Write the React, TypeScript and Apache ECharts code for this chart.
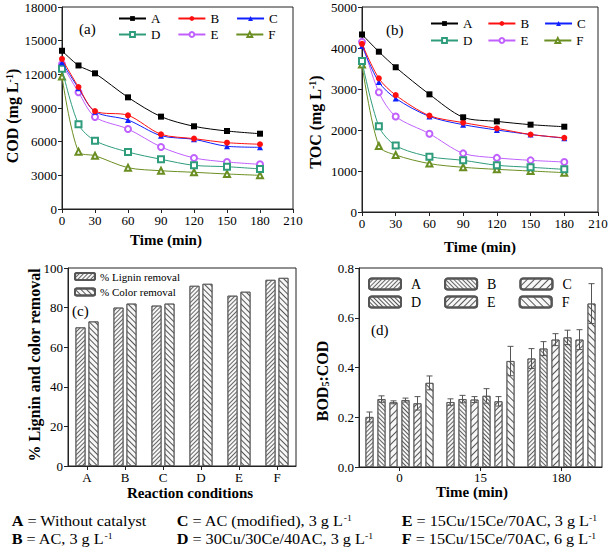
import React, { useEffect, useRef } from 'react';
import * as echarts from 'echarts';

const FONT = 'Liberation Serif';

// Panel (a) / (b): time course
const times = [0, 15, 30, 60, 90, 120, 150, 180];
const lineKeys = ['A', 'B', 'C', 'D', 'E', 'F'];
const codA = [14100, 12790, 12090, 9950, 8230, 7370, 6950, 6710];
const codB = [13370, 10870, 8730, 8350, 6660, 6270, 5910, 5770];
const codC = [13070, 10760, 8670, 7930, 6530, 6210, 5590, 5500];
const codD = [12500, 7550, 6090, 5080, 4430, 3890, 3770, 3570];
const codE = [12900, 10400, 8200, 7130, 5530, 4550, 4190, 3980];
const codF = [11800, 5110, 4750, 3680, 3410, 3270, 3120, 3000];
const tocA = [4330, 3910, 3530, 2870, 2310, 2210, 2130, 2080];
const tocB = [4100, 3260, 2850, 2350, 2180, 2040, 1890, 1810];
const tocC = [4050, 3170, 2770, 2330, 2130, 2000, 1890, 1800];
const tocD = [3680, 2090, 1620, 1350, 1260, 1140, 1090, 1040];
const tocE = [4150, 2920, 2330, 1910, 1430, 1320, 1260, 1220];
const tocF = [3600, 1610, 1390, 1180, 1090, 1040, 1000, 960];

// Panel (c)
const conditions = ['A', 'B', 'C', 'D', 'E', 'F'];
const ligninRemoval = [70, 80, 81, 91, 86, 94];
const colorRemoval = [73, 82, 82, 92, 88, 95];

// Panel (d)
const bodTimes = ['0', '15', '180'];
const bodA = [0.201, 0.261, 0.436];
const bodB = [0.273, 0.273, 0.476];
const bodC = [0.26, 0.271, 0.512];
const bodD = [0.269, 0.286, 0.521];
const bodE = [0.256, 0.264, 0.512];
const bodF = [0.338, 0.426, 0.657];
const errA = [0.02, 0.013, 0.04];
const errB = [0.013, 0.015, 0.028];
const errC = [0.006, 0.012, 0.024];
const errD = [0.008, 0.029, 0.029];
const errE = [0.027, 0.019, 0.04];
const errF = [0.028, 0.059, 0.08];

const lineColors = ['#000000', '#ff1010', '#1020ff', '#2f9c7c', '#c060ff', '#6b8e23'];
const lineSymbols = ['rect', 'circle', 'triangle', 'emptyRect', 'emptyCircle', 'emptyTriangle'];

const hatch = (rot: number, gap: number, color = '#555') => ({
  symbol: 'rect',
  symbolSize: 1,
  color,
  dashArrayX: [1, 0],
  dashArrayY: [1, gap],
  rotation: rot,
});

export default function App() {
  const ref = useRef<HTMLDivElement>(null);
  useEffect(() => {
    if (!ref.current) return;
    const chart = echarts.init(ref.current, undefined, { renderer: 'svg' });

    const axisBase = {
      axisLine: { show: true, lineStyle: { color: '#222', width: 1 } },
      axisTick: { show: true, inside: false, length: 4, lineStyle: { color: '#222' } },
      axisLabel: { color: '#000', fontSize: 13, fontFamily: FONT, margin: 5, lineHeight: 13, formatter: (v: any) => String(v) },
      splitLine: { show: false },
    };

    const codData = [codA, codB, codC, codD, codE, codF];
    const tocData = [tocA, tocB, tocC, tocD, tocE, tocF];
    const mkLines = (prefix: string, arrs: number[][], axis: number) =>
      arrs.map((arr, k) => ({
        type: 'line',
        name: prefix + lineKeys[k],
        xAxisIndex: axis,
        yAxisIndex: axis,
        data: times.map((t, i) => [t, arr[i]]),
        smooth: 0.3,
        symbol: lineSymbols[k],
        symbolSize: 6,
        lineStyle: { width: 1, color: lineColors[k] },
        itemStyle: { color: lineColors[k], borderWidth: 1 },
        z: 3 + (5 - k),
      }));

    const bodVals = [bodA, bodB, bodC, bodD, bodE, bodF];
    const bodErrs = [errA, errB, errC, errD, errE, errF];
    const bodHatches = [
      hatch(-Math.PI / 4, 1.5, '#666'),
      hatch(Math.PI / 4, 1.5, '#666'),
      hatch(-Math.PI / 4, 3.5, '#555'),
      hatch(Math.PI / 4, 1.2, '#555'),
      hatch(-Math.PI / 4, 2.5, '#555'),
      hatch(Math.PI / 4, 3.5, '#555'),
    ];
    const barW = 8;
    const step = 12;

    const bodBars = bodVals.map((vals, k) => ({
      type: 'bar',
      name: 'd' + lineKeys[k],
      xAxisIndex: 3,
      yAxisIndex: 3,
      data: vals,
      barWidth: barW,
      barGap: '50%',
      itemStyle: { color: '#f7f7f7', borderColor: '#555', borderWidth: 0.8, decal: bodHatches[k] },
      z: 2,
    }));
    const bodErrSeries = bodVals.map((vals, k) => ({
      type: 'custom',
      name: 'err' + lineKeys[k],
      xAxisIndex: 3,
      yAxisIndex: 3,
      silent: true,
      z: 5,
      data: vals.map((v, j) => [j, v, bodErrs[k][j]]),
      renderItem: (params: any, api: any) => {
        const x = api.value(0);
        const v = api.value(1);
        const e = api.value(2);
        const top = api.coord([x, v + e]);
        const bot = api.coord([x, v - e]);
        const cx = top[0] + (k - 2.5) * step;
        const st = { stroke: '#555', lineWidth: 1 };
        return {
          type: 'group',
          children: [
            { type: 'line', shape: { x1: cx, y1: top[1], x2: cx, y2: bot[1] }, style: st },
            { type: 'line', shape: { x1: cx - 3, y1: top[1], x2: cx + 3, y2: top[1] }, style: st },
            { type: 'line', shape: { x1: cx - 3, y1: bot[1], x2: cx + 3, y2: bot[1] }, style: st },
          ],
        };
      },
    }));

    const strip = (n: string) => n.slice(1);
    const lineLegend = (data: string[], left: number, top: number, gap: number) => ({
      data, left, top, padding: 0, itemWidth: 27, itemHeight: 6, itemGap: gap, formatter: strip,
      textStyle: { fontSize: 13, lineHeight: 13, fontFamily: FONT, color: '#000' }, selectedMode: false,
    });
    const barLegend = (data: string[], top: number) => ({
      data, left: 368, top, padding: 0, itemWidth: 32, itemHeight: 11, itemGap: 23, formatter: strip,
      textStyle: { fontSize: 14, lineHeight: 14, fontFamily: FONT, color: '#000', padding: [0, 0, 0, 5] }, selectedMode: false,
    });

    const richName = {
      sup: { fontSize: 10, fontWeight: 'bold', fontFamily: FONT, verticalAlign: 'top', lineHeight: 15 },
      sub: { fontSize: 10, fontWeight: 'bold', fontFamily: FONT, verticalAlign: 'bottom', lineHeight: 15 },
    };
    const axisName = (x: number, y: number, text: string, rotate: boolean, size: number) => ({
      type: 'text', x, y, rotation: rotate ? Math.PI / 2 : 0,
      style: {
        text, fontSize: size, lineHeight: size, fontWeight: 'bold', fontFamily: FONT, fill: '#000',
        align: 'center', verticalAlign: 'middle', rich: richName,
      },
    });
    const cap = (x: number, y: number, text: string) => ({
      type: 'text', x, y, scaleX: 1.08,
      style: {
        text, fontSize: 15, lineHeight: 14, fontFamily: FONT, fill: '#000', verticalAlign: 'middle',
        rich: {
          b: { fontWeight: 'bold', fontSize: 15, lineHeight: 14, fontFamily: FONT },
          sup: { fontSize: 9, lineHeight: 14, fontFamily: FONT, verticalAlign: 'top' },
        },
      },
    });
    const panelLabel = (x: number, y: number, text: string) => ({
      type: 'text', x, y,
      style: { text, fontSize: 15, lineHeight: 15, fontFamily: FONT, fill: '#000', verticalAlign: 'middle' },
    });

    chart.setOption({
      animation: false,
      backgroundColor: '#fff',
      textStyle: { fontFamily: FONT },
      grid: [
        { left: 62, top: 7, width: 231, height: 202, show: true, borderColor: '#222', borderWidth: 1 },
        { left: 362, top: 7, width: 236, height: 205, show: true, borderColor: '#222', borderWidth: 1 },
        { left: 68, top: 268, width: 228, height: 198, show: true, borderColor: '#222', borderWidth: 1 },
        { left: 359, top: 268, width: 243, height: 199, show: true, borderColor: '#222', borderWidth: 1 },
      ],
      xAxis: [
        { ...axisBase, gridIndex: 0, type: 'value', min: 0, max: 210, interval: 30 },
        { ...axisBase, gridIndex: 1, type: 'value', min: 0, max: 210, interval: 30 },
        { ...axisBase, gridIndex: 2, type: 'category', data: conditions, axisTick: { ...axisBase.axisTick, alignWithLabel: true } },
        { ...axisBase, gridIndex: 3, type: 'category', data: bodTimes, axisTick: { ...axisBase.axisTick, alignWithLabel: true }, axisLabel: { ...axisBase.axisLabel, margin: 4 } },
      ],
      yAxis: [
        { ...axisBase, gridIndex: 0, type: 'value', min: 0, max: 18000, interval: 3000 },
        { ...axisBase, gridIndex: 1, type: 'value', min: 0, max: 5000, interval: 1000 },
        { ...axisBase, gridIndex: 2, type: 'value', min: 0, max: 100, interval: 20 },
        { ...axisBase, gridIndex: 3, type: 'value', min: 0, max: 0.8, interval: 0.2, axisLabel: { ...axisBase.axisLabel, formatter: (v: number) => v.toFixed(1) } },
      ],
      legend: [
        lineLegend(['aA', 'aB', 'aC'], 118, 12, 17),
        lineLegend(['aD', 'aE', 'aF'], 118, 28, 17),
        lineLegend(['bA', 'bB', 'bC'], 430, 17, 15),
        lineLegend(['bD', 'bE', 'bF'], 430, 34, 15),
        {
          data: ['% Lignin removal', '% Color removal'], orient: 'vertical', left: 74, top: 271, padding: 0,
          itemWidth: 20, itemHeight: 7, itemGap: 4.5,
          textStyle: { fontSize: 11, lineHeight: 11, fontFamily: FONT, color: '#000' }, selectedMode: false,
        },
        barLegend(['dA', 'dB', 'dC'], 277),
        barLegend(['dD', 'dE', 'dF'], 295),
      ],
      series: [
        ...mkLines('a', codData, 0),
        ...mkLines('b', tocData, 1),
        {
          type: 'bar', name: '% Lignin removal', xAxisIndex: 2, yAxisIndex: 2, data: ligninRemoval,
          barWidth: 10, barGap: '30%',
          itemStyle: { color: '#f7f7f7', borderColor: '#555', borderWidth: 0.8, decal: hatch(-Math.PI / 4, 1.5, '#666') },
        },
        {
          type: 'bar', name: '% Color removal', xAxisIndex: 2, yAxisIndex: 2, data: colorRemoval,
          barWidth: 10, barGap: '30%',
          itemStyle: { color: '#f7f7f7', borderColor: '#555', borderWidth: 0.8, decal: hatch(Math.PI / 4, 2.5, '#555') },
        },
        ...bodBars,
        ...bodErrSeries,
      ],
      graphic: [
        panelLabel(79, 29, '(a)'),
        panelLabel(386, 30, '(b)'),
        panelLabel(72, 311, '(c)'),
        panelLabel(371, 330, '(d)'),
        axisName(166, 240, 'Time (min)', false, 15),
        axisName(480, 247, 'Time (min)', false, 15),
        axisName(190, 493, 'Reaction conditions', false, 15),
        axisName(472, 492, 'Time (min)', false, 15),
        axisName(12, 116, 'COD (mg L{sup|-1})', true, 16),
        axisName(315, 122, 'TOC (mg L{sup|-1})', true, 16),
        axisName(34, 365, '% Lignin and color removal', true, 16),
        axisName(322, 381, 'BOD{sub|5}:COD', true, 16),
        cap(11.7, 521, '{b|A} = Without catalyst'),
        cap(11.7, 539, '{b|B} = AC, 3 g L{sup|-1}'),
        cap(176.7, 521, '{b|C} = AC (modified), 3 g L{sup|-1}'),
        cap(176.7, 539, '{b|D} = 30Cu/30Ce/40AC, 3 g L{sup|-1}'),
        cap(401.7, 521, '{b|E} = 15Cu/15Ce/70AC, 3 g L{sup|-1}'),
        cap(401.7, 539, '{b|F} = 15Cu/15Ce/70AC, 6 g L{sup|-1}'),
      ],
    });
    return () => chart.dispose();
  }, []);
  return (
    <div
      ref={ref}
      style={{ position: 'fixed', left: 0, top: 0, width: 614, height: 552, background: '#fff' }}
    />
  );
}
